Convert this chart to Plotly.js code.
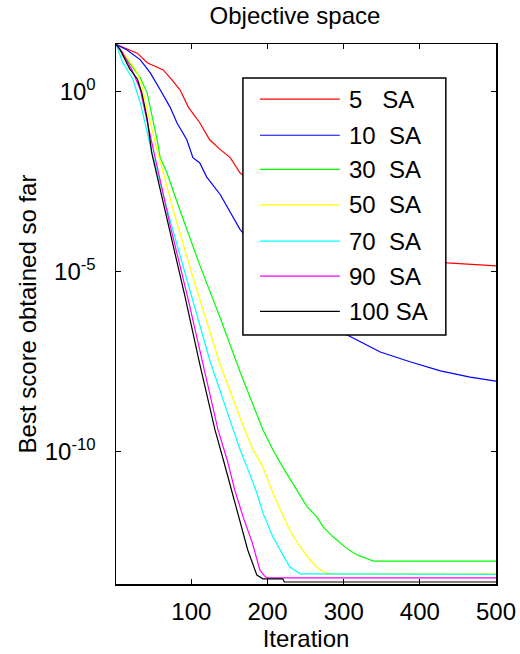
<!DOCTYPE html>
<html>
<head>
<meta charset="utf-8">
<script src="https://cdn.plot.ly/plotly-3.0.1.min.js"></script>
<style>html,body{margin:0;padding:0;background:#fff;}</style>
</head>
<body>
<div id="chart" style="width:520px;height:654px;"></div>
<script>
const seriesNames = ['5\u00a0\u00a0\u00a0SA', '10\u00a0\u00a0SA', '30\u00a0\u00a0SA', '50\u00a0\u00a0SA', '70\u00a0\u00a0SA', '90\u00a0\u00a0SA', '100\u00a0SA'];
const seriesColors = ['#ff0000', '#0000ff', '#00ff00', '#ffff00', '#00ffff', '#ff00ff', '#000000'];

const iterSA5 = [1, 19, 29, 42, 63, 75, 85, 96, 111, 124, 138, 151, 164, 200, 243, 308, 374, 436, 466, 500];
const scoreSA5 = [21, 15, 12, 6.5, 4.1, 2.1, 1.15, 3.8e-1, 1.4e-1, 4.7e-2, 2.5e-2, 1.5e-2, 5.6e-3, 1.6e-3, 5.2e-4, 1.1e-4, 3.6e-5, 1.8e-5, 1.66e-5, 1.48e-5];

const iterSA10 = [1, 15, 33, 46, 59, 72, 81, 94, 102, 111, 120, 138, 164, 200, 243, 275, 304, 348, 387, 427, 466, 500];
const scoreSA10 = [21, 15, 7.8, 3.4, 1.15, 3.8e-1, 1.4e-1, 4.7e-2, 1.5e-2, 1.07e-2, 4.4e-3, 1.4e-3, 1.5e-4, 2.0e-5, 2.5e-6, 6.3e-7, 1.8e-7, 6.0e-8, 3.2e-8, 1.8e-8, 1.2e-8, 9.3e-9];

const iterSA30 = [1, 23, 33, 42, 46, 50, 55, 59, 68, 85, 111, 138, 164, 194, 207, 220, 239, 252, 265, 273, 286, 304, 317, 331, 339, 500];
const scoreSA30 = [21, 4.9, 2.45, 9.3e-1, 3.8e-1, 1.4e-1, 4.7e-2, 1.5e-2, 5.6e-3, 5.2e-4, 1.55e-5, 5.2e-7, 1.66e-8, 4.1e-10, 1.15e-10, 3.8e-11, 8.7e-12, 3.0e-12, 1.55e-12, 8.3e-13, 4.4e-13, 2.1e-13, 1.4e-13, 1.07e-13, 9.3e-14, 9.3e-14];

const iterSA50 = [1, 17, 29, 36, 43, 50, 56, 78, 105, 138, 170, 181, 194, 207, 219, 229, 243, 256, 266, 273, 282, 500];
const scoreSA50 = [21, 8.3, 3.4, 1.2, 2.6e-1, 6.0e-2, 2.0e-2, 3.8e-4, 4.4e-6, 2.6e-8, 4.1e-10, 1.15e-10, 3.8e-11, 7.2e-12, 2.0e-12, 6.8e-13, 2.3e-13, 1.0e-13, 6.0e-14, 4.7e-14, 4.1e-14, 4.1e-14];

const iterSA70 = [1, 10, 23, 33, 39, 46, 72, 98, 124, 155, 164, 173, 186, 194, 207, 219, 229, 243, 500];
const scoreSA70 = [21, 6.5, 2.3, 4.9e-1, 1.4e-1, 3.2e-2, 2.75e-4, 3.2e-6, 3.6e-8, 4.1e-10, 1.15e-10, 3.8e-11, 7.2e-12, 2.0e-12, 4.4e-13, 1.55e-13, 6.5e-14, 4.1e-14, 4.0e-14];

const iterSA90 = [1, 9, 22, 33, 40, 50, 72, 96, 118, 135, 147, 157, 168, 180, 190, 197, 201, 500];
const scoreSA90 = [21, 13, 4.1, 1.15, 2.3e-1, 2.5e-2, 2.0e-4, 1.66e-6, 1.4e-8, 4.1e-10, 6.0e-11, 8.7e-12, 1.55e-12, 3.0e-13, 5.2e-14, 3.4e-14, 3.2e-14, 3.2e-14];

const iterSA100 = [1, 6, 19, 29, 35, 42, 48, 72, 92, 111, 131, 142, 155, 164, 174, 186, 194, 220, 222, 500];
const scoreSA100 = [21, 15.5, 4.4, 2.3, 9.3e-1, 1.8e-1, 2.0e-2, 1.3e-4, 1.9e-6, 2.75e-8, 4.1e-10, 6.0e-11, 5.6e-12, 1.3e-12, 1.9e-13, 3.8e-14, 3.0e-14, 3.0e-14, 2.45e-14, 2.45e-14];

const xTickVals = [100, 200, 300, 400, 500];
const yTickVals = [1, 1e-5, 1e-10];
const yTickText = ['10<sup>0</sup>', '10<sup>-5</sup>', '10<sup>-10</sup>'];

const iters = [iterSA5, iterSA10, iterSA30, iterSA50, iterSA70, iterSA90, iterSA100];
const scores = [scoreSA5, scoreSA10, scoreSA30, scoreSA50, scoreSA70, scoreSA90, scoreSA100];

const FONT = 'Liberation Sans, Arial, sans-serif';

const traces = seriesNames.map((n, i) => ({
  x: iters[i], y: scores[i], name: n, type: 'scatter', mode: 'lines',
  line: {color: seriesColors[i], width: 1.2}, showlegend: false
}));

// custom MATLAB-style legend box
const legX0 = 0.334, legX1 = 0.868, legY0 = 0.461, legY1 = 0.937;
const entryY = [0.898, 0.831, 0.768, 0.702, 0.635, 0.570, 0.505];
const shapes = [{type: 'rect', xref: 'paper', yref: 'paper', x0: legX0, x1: legX1, y0: legY0, y1: legY1,
  line: {color: '#000', width: 1.5}, fillcolor: '#fff', layer: 'above'}];
const annotations = [];
seriesNames.forEach((n, i) => {
  shapes.push({type: 'line', xref: 'paper', yref: 'paper', x0: 0.379, x1: 0.589, y0: entryY[i], y1: entryY[i],
    line: {color: seriesColors[i], width: 1.2}, layer: 'above'});
  annotations.push({xref: 'paper', yref: 'paper', x: 0.608, y: entryY[i], xanchor: 'left', yanchor: 'middle',
    text: n, showarrow: false, font: {family: FONT, size: 24, color: '#000'}});
});

const layout = {
  width: 520, height: 654,
  margin: {l: 116, r: 24, t: 44, b: 70},
  paper_bgcolor: '#fff', plot_bgcolor: '#fff',
  font: {family: FONT, size: 24, color: '#000'},
  title: {text: 'Objective space', x: 0.471, xref: 'paper', xanchor: 'center', y: 1 - 16 / 654, yref: 'container', yanchor: 'middle',
    font: {family: FONT, size: 24, color: '#000'}},
  xaxis: {range: [1, 500], tickmode: 'array', tickvals: xTickVals, ticks: 'inside', ticklen: 5, tickcolor: '#000',
    showline: true, linecolor: '#000', linewidth: 1.5, mirror: 'ticks', showgrid: false, zeroline: false,
    tickfont: {family: FONT, size: 24, color: '#000'}, ticklabelstandoff: 6,
    title: {text: 'Iteration', font: {family: FONT, size: 24, color: '#000'}, standoff: 3}},
  yaxis: {type: 'log', range: [-13.667, 1.333], tickmode: 'array', tickvals: yTickVals, ticktext: yTickText,
    ticks: 'inside', ticklen: 5, tickcolor: '#000',
    showline: true, linecolor: '#000', linewidth: 1.5, mirror: 'ticks', showgrid: false, zeroline: false,
    tickfont: {family: FONT, size: 24, color: '#000'}, ticklabelstandoff: 14,
    title: {text: 'Best score obtained so far', font: {family: FONT, size: 24, color: '#000'}, standoff: 1}},
  shapes: shapes,
  annotations: annotations
};

Plotly.newPlot('chart', traces, layout, {displayModeBar: false, staticPlot: true});
</script>
</body>
</html>
